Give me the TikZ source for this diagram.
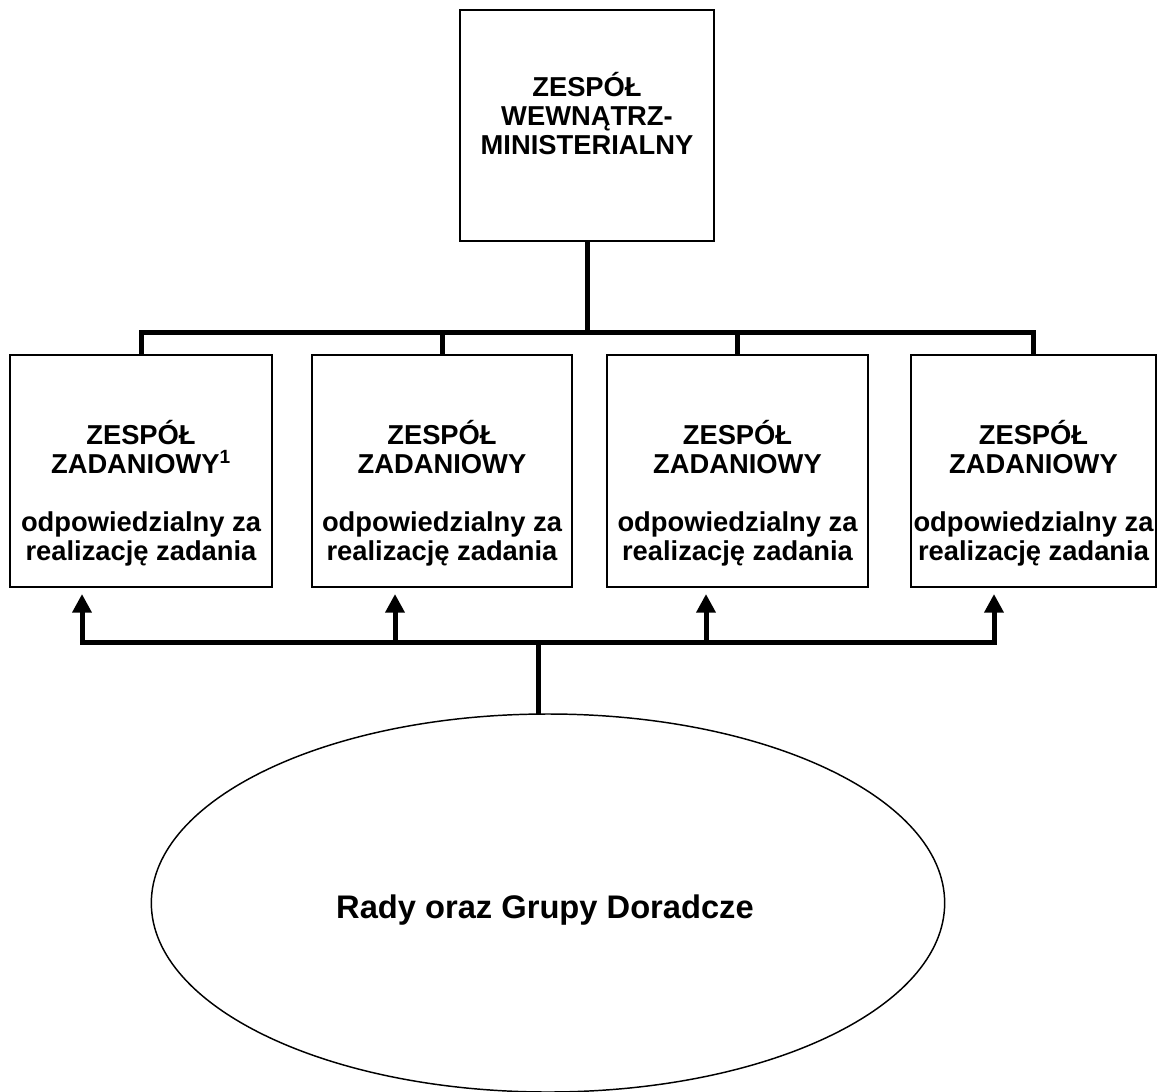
\documentclass[tikz,border=0pt]{standalone}
\usepackage{fontspec}
\setmainfont{Liberation Sans}
\usetikzlibrary{arrows.meta,shapes.geometric}
\begin{document}
\begin{tikzpicture}[x=0.75pt,y=-0.75pt,
  box/.style={draw, line width=1.5pt, minimum height=174pt, inner sep=0pt, outer sep=0pt},
  conn/.style={line width=3.75pt},
  tip/.style={-{Triangle[width=14pt,length=14pt]}},
  lbl/.style={font=\fontsize{20.5}{21.75}\selectfont\bfseries, align=center, inner sep=0pt}]
\useasboundingbox (0,0) rectangle (1157,1092);
% top box
\node[box, minimum width=190.5pt, minimum height=173.25pt] (top) at (587,125.5) {};
\node[lbl] (topt) at (587,114) {ZESPÓŁ\\WEWNĄTRZ-\\MINISTERIALNY};
% task boxes
\node[box, minimum width=196.5pt] (b1) at (141,471) {};
\node[box, minimum width=195pt] (b2) at (442,471) {};
\node[box, minimum width=195.75pt] (b3) at (737.5,471) {};
\node[box, minimum width=183.75pt] (b4) at (1033.5,471) {};
\node[lbl] (t1) at (141,493) {ZESPÓŁ\\ZADANIOWY\textsuperscript{1}\\[21.75pt]odpowiedzialny za\\realizację zadania};
\node[lbl] (t2) at (442,493) {ZESPÓŁ\\ZADANIOWY\\[21.75pt]odpowiedzialny za\\realizację zadania};
\node[lbl] (t3) at (737.5,493) {ZESPÓŁ\\ZADANIOWY\\[21.75pt]odpowiedzialny za\\realizację zadania};
\node[lbl] (t4) at (1033.5,493) {ZESPÓŁ\\ZADANIOWY\\[21.75pt]odpowiedzialny za\\realizację zadania};
% ellipse
\node[draw, ellipse, line width=1.1pt, minimum width=595pt, minimum height=283.5pt, inner sep=0pt, outer sep=0pt] (ell) at (548,903) {};
\node[font=\fontsize{24.5}{29}\selectfont\bfseries, inner sep=0pt] (ellt) at (545,910) {Rady oraz Grupy Doradcze};
% upper connectors
\coordinate (busy) at (0,332);
\draw[conn] (b1.north) |- (b4.north |- busy) -- (b4.north);
\draw[conn] (b2.north) -- (b2.north |- busy);
\draw[conn] (b3.north) -- (b3.north |- busy);
\draw[conn] (top.south) -- (top.south |- busy);
% lower connectors
\coordinate (a1) at (82,642);
\coordinate (a2) at (395,642);
\coordinate (a3) at (706,642);
\coordinate (a4) at (994,642);
\coordinate (am) at (538,642);
\draw[conn, {Triangle[width=14pt,length=14pt]}-{Triangle[width=14pt,length=14pt]}, shorten <=5.25pt, shorten >=5.25pt]
  (a1 |- b1.south) -- (a1) -- (a4) -- (a4 |- b4.south);
\draw[conn, tip, shorten >=5.25pt] (a2) -- (a2 |- b2.south);
\draw[conn, tip, shorten >=5.25pt] (a3) -- (a3 |- b3.south);
\draw[conn] (am) -- (am |- ell.north);
\end{tikzpicture}
\end{document}
